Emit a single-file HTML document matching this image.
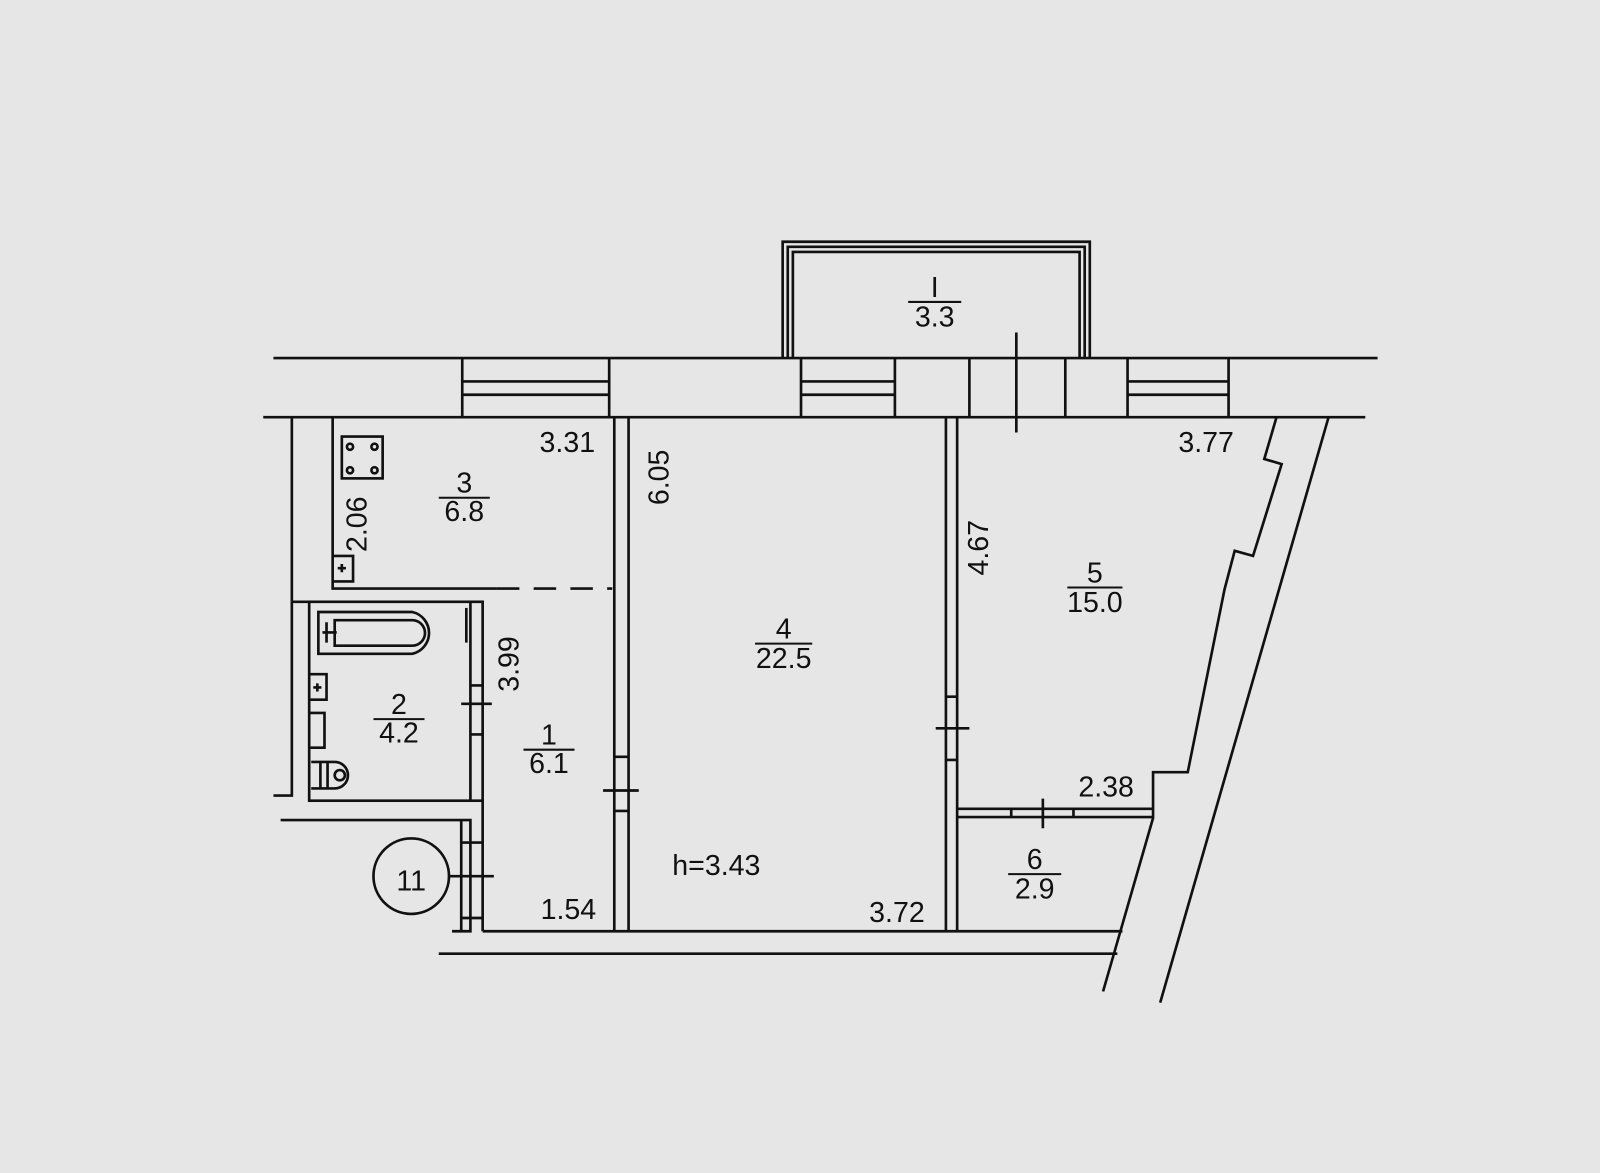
<!DOCTYPE html>
<html><head><meta charset="utf-8"><style>
html,body{margin:0;padding:0;background:#e6e6e6;}
svg{display:block;}
text{font-family:"Liberation Sans",sans-serif;fill:#111;font-size:28px;}
</style></head><body>
<svg width="1600" height="1173" viewBox="0 0 1568 1150" preserveAspectRatio="none">
<rect width="1568" height="1150" fill="#e6e6e6"/>
<g stroke="#111" stroke-width="2.6" fill="none">
<path d="M767 351 V237 H1068 V351"/>
<path d="M772 351 V242 H1063 V351"/>
<path d="M777 351 V247 H1058 V351"/>
<line x1="268" y1="351" x2="1350" y2="351"/>
<line x1="258" y1="409" x2="1338" y2="409"/>
<path d="M453 351V409M597 351V409M785 351V409M877 351V409M950 351V409M1044 351V409M1105 351V409M1204 351V409"/>
<path d="M453 374H597M453 387H597M785 374H877M785 387H877M1105 374H1204M1105 387H1204"/>
<line x1="996" y1="326" x2="996" y2="424"/>
<path d="M286 409V590"/>
<path d="M326 409V577H487"/>
<path d="M487 577H600" stroke-dasharray="22 14"/>
<path d="M286 590H303"/>
<rect x="335" y="428" width="40" height="41"/>
<circle cx="343" cy="438" r="3"/><circle cx="367" cy="438" r="3"/><circle cx="343" cy="461" r="3"/><circle cx="367" cy="461" r="3"/>
<path d="M326 545H346V570H326"/><path d="M331 557H339M335 553V561"/>
<path d="M286 590V780H268"/>
<rect x="303" y="590" width="170" height="195"/>
<path d="M461 590V785"/>
<path d="M457 596V630"/>
<path d="M461 672H473M461 720H473M452 690H482"/>
<path d="M320 600H404A21 21 0 0 1 404 641H312V600Z"/>
<path d="M328 608H404A12.5 12.5 0 0 1 404 633H328Z"/>
<path d="M320 610V630M316 620H330"/>
<path d="M303 661H320V686H303"/><path d="M307 674H315M311 670V678"/>
<path d="M303 699H318V733H303"/>
<path d="M305 747H328A13 13 0 0 1 328 773H305"/><path d="M314 747V773M321 747V773"/><circle cx="333" cy="760" r="5"/>
<path d="M473 785V913"/>
<path d="M275 804H461V913H443"/>
<path d="M452 804V913"/>
<path d="M452 826H473M452 900H473"/>
<path d="M440 859H484"/>
<circle cx="403" cy="859" r="37"/>
<path d="M602 409V913M616 409V913"/>
<path d="M602 742H616M602 795H616M591 775H626"/>
<path d="M927 409V913M938 409V913"/>
<path d="M927 683H938M927 745H938M917 714H950"/>
<path d="M473 913H1100"/>
<path d="M430 935H1095"/>
<path d="M938 793H1130M938 801H1130"/>
<path d="M991 793V801M1052 793V801M1022 783V812"/>
<path d="M1251 409L1239 450L1256 455L1228 545L1210 540L1200 578L1164 757H1130V802L1081 972"/>
<path d="M1302 409L1137 983"/>
</g>
<g stroke="#111" stroke-width="2">
<path d="M430 488H480M366 705H416M513 735H563M740 631H796M1046 576H1100M890 296H942M988 857H1040"/>
</g>
<g text-anchor="middle">
<text x="556" y="443">3.31</text>
<text x="455" y="483">3</text><text x="455" y="511">6.8</text>
<text x="391" y="700">2</text><text x="391" y="728">4.2</text>
<text x="538" y="730">1</text><text x="538" y="758">6.1</text>
<text x="768" y="626">4</text><text x="768" y="655">22.5</text>
<text x="1073" y="571">5</text><text x="1073" y="600">15.0</text>
<text x="1014" y="852">6</text><text x="1014" y="881">2.9</text>
<text x="916" y="291">I</text><text x="916" y="320">3.3</text>
<text x="1182" y="443">3.77</text>
<text x="1084" y="781">2.38</text>
<text x="557" y="901">1.54</text>
<text x="879" y="904">3.72</text>
<text x="702" y="858">h=3.43</text>
<text x="403" y="873" font-size="38">11</text>
<text transform="translate(359 514) rotate(-90)">2.06</text>
<text transform="translate(655 468) rotate(-90)">6.05</text>
<text transform="translate(508 651) rotate(-90)">3.99</text>
<text transform="translate(968 537) rotate(-90)">4.67</text>
</g>
</svg>
</body></html>
